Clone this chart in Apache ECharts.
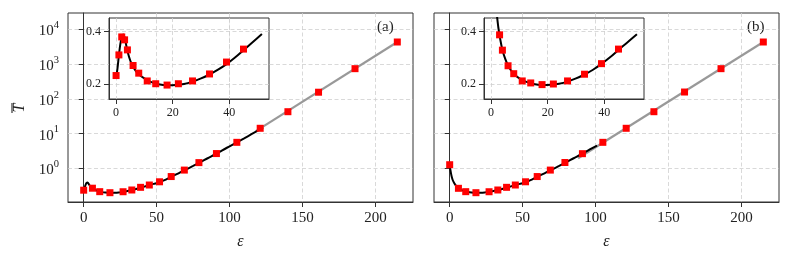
<!DOCTYPE html>
<html>
<head>
<meta charset="utf-8">
<script src="https://cdn.jsdelivr.net/npm/echarts@6/dist/echarts.min.js"></script>
<style>
html,body{margin:0;padding:0;background:#fff;}
#chart{width:793px;height:261px;}
</style>
</head>
<body>
<div id="chart"></div>
<script>
// ---- data ----
const epsMain = [0, 6, 11, 18, 27, 33, 39, 45, 52, 60, 69, 79, 91, 105, 121, 140, 161, 186, 215];
const TmainA = [0.235, 0.268, 0.213, 0.199, 0.212, 0.238, 0.284, 0.331, 0.41, 0.58, 0.89, 1.46, 2.66, 5.6, 14.2, 42.6, 155, 738, 4320];
const TmainB = [1.27, 0.266, 0.213, 0.199, 0.212, 0.238, 0.284, 0.331, 0.41, 0.58, 0.89, 1.47, 2.64, 5.6, 14.2, 42.6, 157, 738, 4320];

const epsInset = [0, 1, 2, 3, 4, 6, 8, 11, 14, 18, 22, 27, 33, 39, 45];
const TinsetA = [0.233, 0.311, 0.379, 0.368, 0.330, 0.271, 0.242, 0.2126, 0.202, 0.197, 0.202, 0.2126, 0.239, 0.284, 0.333];
const TinsetB = [1.27, 0.70, 0.50, 0.387, 0.329, 0.270, 0.240, 0.2126, 0.205, 0.1987, 0.201, 0.2126, 0.238, 0.278, 0.333];

const curveEpsA = [0, 0.5, 1, 1.5, 2, 2.5, 3, 3.5, 4, 5, 6, 7, 8, 10, 12, 15, 18, 21, 24, 27, 30, 33, 36, 39, 42, 45, 48, 51.5, 55, 60, 65, 70, 75, 80, 85, 90, 95, 100, 105, 110, 115, 120, 123];
const curveTA = [0.225, 0.26, 0.31, 0.352, 0.378, 0.388, 0.378, 0.352, 0.326, 0.29, 0.266, 0.25, 0.238, 0.222, 0.21, 0.2, 0.196, 0.197, 0.201, 0.21, 0.222, 0.237, 0.255, 0.276, 0.301, 0.329, 0.357, 0.39, 0.45, 0.57, 0.72, 0.92, 1.17, 1.5, 1.95, 2.5, 3.3, 4.3, 5.6, 7.3, 9.6, 12.6, 14.8];

const curveEpsB = [0, 0.5, 1, 1.5, 2, 2.5, 3, 3.5, 4, 5, 6, 7, 8, 10, 12, 15, 18, 21, 24, 27, 30, 33, 36, 39, 42, 45, 48, 51.5, 55, 60, 65, 70, 75, 80, 85, 90, 95, 101];
const curveTB = [1.25, 0.9, 0.68, 0.55, 0.47, 0.42, 0.385, 0.355, 0.33, 0.296, 0.271, 0.253, 0.24, 0.222, 0.211, 0.201, 0.197, 0.198, 0.202, 0.21, 0.222, 0.237, 0.255, 0.277, 0.302, 0.330, 0.357, 0.389, 0.45, 0.57, 0.72, 0.92, 1.17, 1.5, 1.95, 2.5, 3.3, 4.5];

const insetCurveEnd = 51.5;

const grayEpsA = [118, 215];
const grayTA = [11.8, 4320];
const grayEpsB = [88, 215];
const grayTB = [1.95, 4320];

const mainXTicks = [0, 50, 100, 150, 200];
const mainYTicks = [1, 10, 100, 1000, 10000];
const insetXTicks = [0, 20, 40];
const insetYTicks = [0.2, 0.4];
const panelLabels = ['(a)', '(b)'];
const xName = 'ε';
const yName = 'T';

// ---- helpers ----
const pair = (xs, ys) => xs.map((x, i) => [x, ys[i]]);
const upTo = (pts, xmax) => pts.filter(p => p[0] <= xmax);
const FONT = 'Liberation Serif';
const AX = '#333';
const gridLine = { show: true, lineStyle: { type: [4, 2.5], color: '#cfcfcf', width: 0.8 } };

function xAxisCfg(gi, main) {
  return {
    type: 'value', gridIndex: gi,
    min: main ? -10.75 : -2.5, max: main ? 225.75 : 54,
    minInterval: main ? 50 : 20, maxInterval: main ? 50 : 20,
    axisLine: { show: true, onZero: false, lineStyle: { color: AX, width: 1 } },
    axisTick: { show: true, length: 5, customValues: main ? mainXTicks : insetXTicks, lineStyle: { color: AX, width: 1 } },
    axisLabel: { customValues: main ? mainXTicks : insetXTicks, fontFamily: FONT, fontSize: main ? 15 : 12, color: '#222', margin: main ? 9 : 8 },
    splitLine: gridLine,
    name: main ? xName : '', nameLocation: 'middle', nameGap: 32,
    nameTextStyle: { fontFamily: FONT, fontStyle: 'italic', fontSize: 16, color: '#222' }
  };
}
function yMainCfg(gi, showLabels) {
  return {
    type: 'log', gridIndex: gi, logBase: 10,
    min: 0.1074, max: 29512,
    axisLine: { show: true, lineStyle: { color: AX, width: 1 } },
    axisTick: { show: true, length: 5, customValues: mainYTicks, lineStyle: { color: AX, width: 1 } },
    axisLabel: {
      show: showLabels, customValues: mainYTicks, margin: 9,
      formatter: v => '{b|10}{s|' + Math.round(Math.log10(v)) + '}',
      rich: {
        b: { fontFamily: FONT, fontSize: 15, color: '#222', lineHeight: 19, verticalAlign: 'bottom' },
        s: { fontFamily: FONT, fontSize: 10.5, color: '#222', lineHeight: 12, verticalAlign: 'top' }
      }
    },
    splitLine: gridLine
  };
}
function yInsetCfg(gi) {
  return {
    type: 'value', gridIndex: gi,
    min: 0.1443, max: 0.4506, minInterval: 0.2, maxInterval: 0.2,
    axisLine: { show: true, onZero: false, lineStyle: { color: AX, width: 1 } },
    axisTick: { show: true, length: 5, customValues: insetYTicks, lineStyle: { color: AX, width: 1 } },
    axisLabel: { customValues: insetYTicks, fontFamily: FONT, fontSize: 12, color: '#222', margin: 8, formatter: v => v.toFixed(1) },
    splitLine: gridLine
  };
}
function gridCfg(l, t, w, h) {
  return { left: l, top: t, width: w, height: h, show: true, borderColor: AX, borderWidth: 1,
           backgroundColor: 'transparent', containLabel: false, outerBoundsMode: 'none' };
}
function lineS(xi, yi, data, color, w, z) {
  return { type: 'line', xAxisIndex: xi, yAxisIndex: yi, data: data, showSymbol: false, symbol: 'none',
           smooth: 0.3, lineStyle: { color: color, width: w }, z: z, silent: true, animation: false, clip: true };
}
function dotS(xi, yi, data) {
  return { type: 'scatter', xAxisIndex: xi, yAxisIndex: yi, data: data, symbol: 'rect', symbolSize: 7,
           itemStyle: { color: '#ff0000', opacity: 1 }, z: 5, silent: true, animation: false, clip: true };
}

const chart = echarts.init(document.getElementById('chart'), null, { renderer: 'canvas' });
chart.setOption({
  animation: false,
  backgroundColor: '#fff',
  grid: [gridCfg(68, 13, 345, 189), gridCfg(434, 13, 345, 189), gridCfg(109, 18, 160, 81), gridCfg(484, 18, 160, 81)],
  xAxis: [xAxisCfg(0, true), xAxisCfg(1, true), xAxisCfg(2, false), xAxisCfg(3, false)],
  yAxis: [yMainCfg(0, true), yMainCfg(1, false), yInsetCfg(2), yInsetCfg(3)],
  series: [
    lineS(0, 0, pair(grayEpsA, grayTA), '#999', 2.2, 2),
    lineS(0, 0, pair(curveEpsA, curveTA), '#000', 2, 3),
    dotS(0, 0, pair(epsMain, TmainA)),
    lineS(1, 1, pair(grayEpsB, grayTB), '#999', 2.2, 2),
    lineS(1, 1, pair(curveEpsB, curveTB), '#000', 2, 3),
    dotS(1, 1, pair(epsMain, TmainB)),
    lineS(2, 2, upTo(pair(curveEpsA, curveTA), insetCurveEnd), '#000', 2, 3),
    dotS(2, 2, pair(epsInset, TinsetA)),
    lineS(3, 3, upTo(pair(curveEpsB, curveTB), insetCurveEnd), '#000', 2, 3),
    dotS(3, 3, pair(epsInset, TinsetB))
  ],
  graphic: [
    { type: 'text', left: 377, top: 20, style: { text: panelLabels[0], font: '15px "Liberation Serif"', fill: '#222' } },
    { type: 'text', left: 747, top: 20, style: { text: panelLabels[1], font: '15px "Liberation Serif"', fill: '#222' } },
    { type: 'text', x: 20, y: 108, rotation: Math.PI / 2, z: 10,
      style: { text: yName, font: 'italic 16px "Liberation Serif"', fill: '#222', align: 'center', verticalAlign: 'middle' } },
    { type: 'line', z: 10, shape: { x1: 12, y1: 113, x2: 12, y2: 103 }, style: { stroke: '#222', lineWidth: 1.1 } }
  ]
});
</script>
</body>
</html>
